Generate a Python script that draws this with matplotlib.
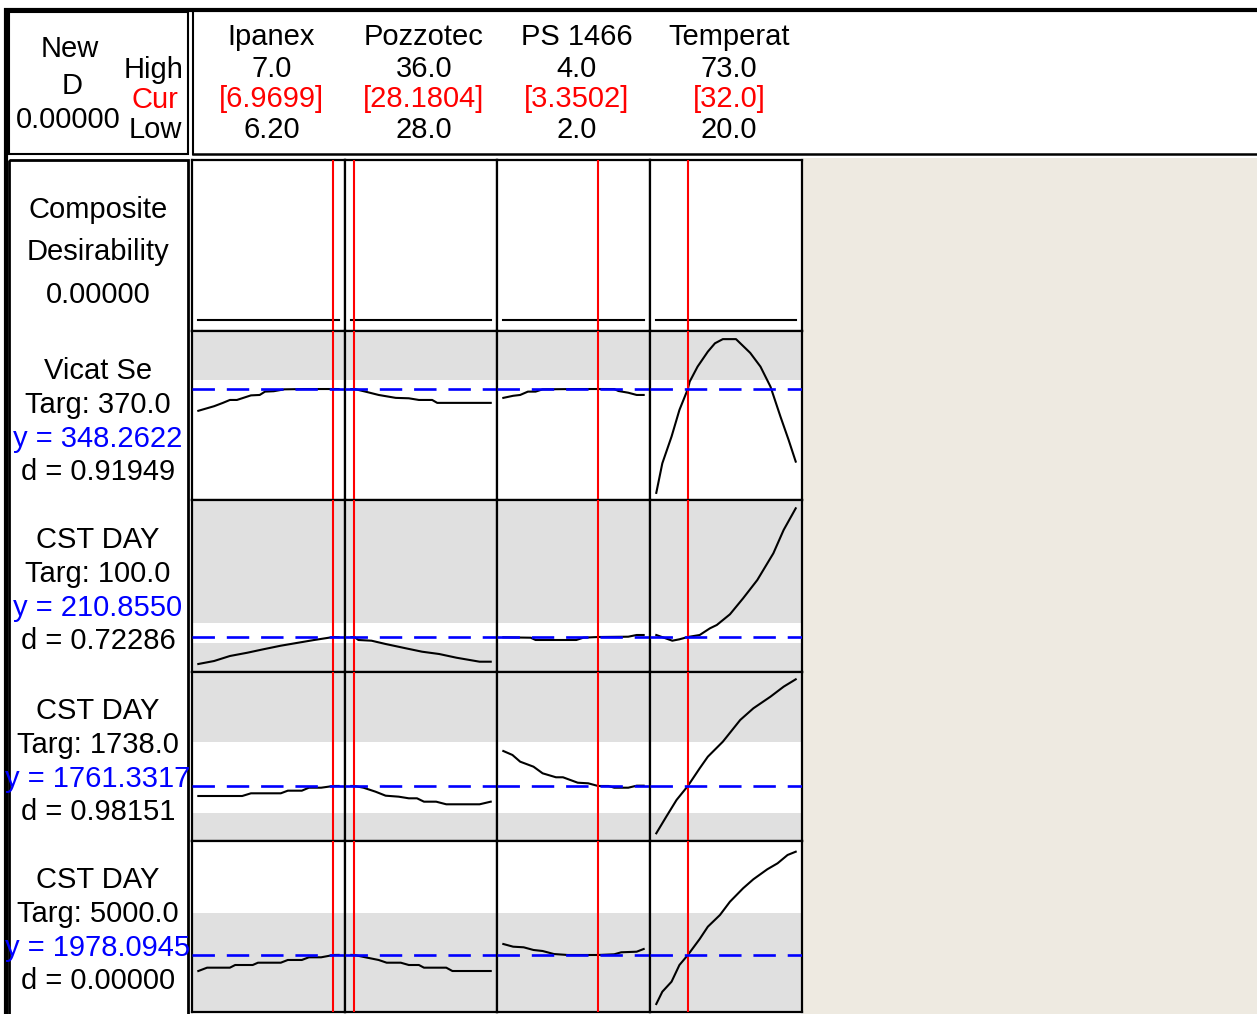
import matplotlib
matplotlib.use('Agg')
import matplotlib.pyplot as plt
from matplotlib.patches import Rectangle
from matplotlib import font_manager as fm

### Data
factors = ['Ipanex', 'Pozzotec', 'PS 1466', 'Temperat']
f_high = [7.0, 36.0, 4.0, 73.0]
f_low = [6.20, 28.0, 2.0, 20.0]
f_cur = [6.9699, 28.1804, 3.3502, 32.0]
high_txt = ['7.0', '36.0', '4.0', '73.0']
cur_txt = ['[6.9699]', '[28.1804]', '[3.3502]', '[32.0]']
low_txt = ['6.20', '28.0', '2.0', '20.0']

responses = ['Vicat Se', 'CST DAY', 'CST DAY', 'CST DAY']
targets = ['370.0', '100.0', '1738.0', '5000.0']
y_pred = ['348.2622', '210.8550', '1761.3317', '1978.0945']
d_vals = ['0.91949', '0.72286', '0.98151', '0.00000']
composite_d = '0.00000'
new_d = '0.00000'

# white (acceptable) band of each response
band_lo = [0.0, 100.0, 1000.0, 3000.0]
band_hi = [370.0, 500.0, 3000.0, 5000.0]
y_cur = [348.2622, 210.8550, 1761.3317, 1978.0945]

# composite desirability along each factor
comp_d = [0.0, 0.0]

# Vicat Se
vicat_ipa_x = [6.20, 6.29, 6.34, 6.38, 6.42, 6.50, 6.55, 6.58, 6.63, 6.69, 6.80, 6.97, 7.00]
vicat_ipa_y = [296, 307, 315, 322, 322, 333, 334, 342, 343, 347.5, 348.2, 348.26, 348.2]
vicat_poz_x = [28.0, 28.18, 28.81, 29.57, 30.55, 31.30, 31.88, 32.64, 32.93, 34.5, 36.0]
vicat_poz_y = [348.1, 348.26, 342, 334, 327, 326, 322, 322, 315, 315, 315]
vicat_ps_x = [2.0, 2.14, 2.24, 2.35, 2.46, 2.56, 3.0, 3.35, 3.58, 3.64, 3.78, 3.90, 4.0]
vicat_ps_y = [327, 332, 334, 342, 342, 347.5, 348.2, 348.26, 348.2, 343.5, 339.4, 334, 334]
vicat_tmp_x = [20, 22.3, 25.8, 28.8, 32.0, 32.7, 35.7, 39.6, 42.3, 45.3, 50.3, 55.7, 59.6, 63.4, 67.2, 70.3, 73.0]
vicat_tmp_y = [99, 170, 234, 298, 348.26, 366, 402, 438, 458, 468, 468, 435, 402, 354, 282, 226, 174]

# CST DAY (1)
cst1_ipa_x = [6.20, 6.29, 6.38, 6.48, 6.57, 6.67, 6.77, 6.86, 6.97, 7.00]
cst1_ipa_y = [-329, -269, -169, -103, -35, 37, 97, 151, 210.86, 205]
cst1_poz_x = [28.0, 28.18, 28.41, 29.16, 29.97, 31.13, 32.06, 33.04, 34.03, 35.36, 36.0]
cst1_poz_y = [209, 210.86, 151, 137, 71, -15, -83, -129, -203, -283, -283]
cst1_ps_x = [2.0, 2.39, 2.46, 3.04, 3.14, 3.35, 3.78, 3.90, 4.0]
cst1_ps_y = [205, 197, 151, 151, 197, 210.86, 217, 251, 251]
cst1_tmp_x = [20, 26.1, 28.8, 32.0, 36.5, 40.4, 43.0, 48.0, 53.0, 58.4, 64.5, 68.4, 73.0]
cst1_tmp_y = [251, 137, 165, 210.86, 251, 385, 451, 665, 985, 1351, 1885, 2351, 2785]

# CST DAY (2)
cst2_ipa_x = [6.20, 6.45, 6.50, 6.67, 6.71, 6.79, 6.83, 6.90, 6.97, 7.00]
cst2_ipa_y = [1479, 1479, 1555, 1555, 1629, 1629, 1713, 1713, 1761.33, 1762]
cst2_poz_x = [28.0, 28.18, 28.70, 29.39, 29.97, 30.72, 31.30, 31.77, 32.17, 32.87, 33.45, 35.36, 36.0]
cst2_poz_y = [1762, 1761.33, 1713, 1601, 1488, 1460, 1414, 1414, 1319, 1319, 1245, 1245, 1319]
cst2_ps_x = [2.0, 2.13, 2.24, 2.43, 2.56, 2.75, 2.85, 3.06, 3.21, 3.35, 3.50, 3.58, 3.78, 3.90, 4.0]
cst2_ps_y = [2748, 2636, 2447, 2306, 2119, 2007, 2007, 1854, 1837, 1761.33, 1761, 1713, 1713, 1770, 1770]
cst2_tmp_x = [20, 23.8, 27.7, 32.0, 36.5, 39.6, 45.3, 51.9, 56.9, 63.4, 68.4, 73.0]
cst2_tmp_y = [427, 896, 1367, 1761.33, 2260, 2588, 3011, 3623, 3952, 4280, 4562, 4770]

# CST DAY (3)
cst3_ipa_x = [6.20, 6.25, 6.38, 6.41, 6.51, 6.54, 6.67, 6.71, 6.79, 6.83, 6.90, 6.97, 7.00]
cst3_ipa_y = [1589, 1670, 1670, 1735, 1735, 1791, 1791, 1857, 1857, 1922, 1922, 1978.09, 1980]
cst3_poz_x = [28.0, 28.18, 28.81, 29.57, 30.03, 30.84, 31.30, 31.88, 32.17, 33.45, 33.80, 36.0]
cst3_poz_y = [1980, 1978.09, 1922, 1857, 1791, 1791, 1735, 1735, 1670, 1670, 1589, 1589]
cst3_ps_x = [2.0, 2.14, 2.29, 2.43, 2.56, 2.72, 2.92, 3.35, 3.58, 3.68, 3.90, 4.0]
cst3_ps_y = [2245, 2180, 2165, 2100, 2075, 2002, 1978, 1978.09, 1995, 2044, 2058, 2124]
cst3_tmp_x = [20, 22.3, 25.8, 28.8, 32.0, 36.5, 39.6, 44.2, 48.0, 53.0, 56.9, 62.2, 66.1, 69.9, 73.0]
cst3_tmp_y = [787, 1086, 1329, 1735, 1978.09, 2367, 2666, 2950, 3273, 3599, 3818, 4061, 4206, 4408, 4488]

curves = [
    [(vicat_ipa_x, vicat_ipa_y), (vicat_poz_x, vicat_poz_y), (vicat_ps_x, vicat_ps_y), (vicat_tmp_x, vicat_tmp_y)],
    [(cst1_ipa_x, cst1_ipa_y), (cst1_poz_x, cst1_poz_y), (cst1_ps_x, cst1_ps_y), (cst1_tmp_x, cst1_tmp_y)],
    [(cst2_ipa_x, cst2_ipa_y), (cst2_poz_x, cst2_poz_y), (cst2_ps_x, cst2_ps_y), (cst2_tmp_x, cst2_tmp_y)],
    [(cst3_ipa_x, cst3_ipa_y), (cst3_poz_x, cst3_poz_y), (cst3_ps_x, cst3_ps_y), (cst3_tmp_x, cst3_tmp_y)],
]

### Layout (pixels)
W, H = 1257, 1014
col_edges = [192, 345, 497, 650, 802]
row_edges = [160, 331, 500, 672, 841, 1012]
row_ylims = [(-0.07, 1.0), (81.9, 487.5), (-489, 2951), (210, 4976), (593, 4748)]

GREY = '#E0E0E0'
BEIGE = '#EEEAE1'

# narrow face if the system has one, else plain Liberation Sans a bit smaller
installed = {f.name for f in fm.fontManager.ttflist}
if 'Liberation Sans Narrow' in installed:
    plt.rcParams['font.family'] = ['Liberation Sans Narrow', 'DejaVu Sans']
    fs = 24
else:
    plt.rcParams['font.family'] = ['Liberation Sans', 'DejaVu Sans']
    fs = 21

fig = plt.figure(figsize=(W / 100, H / 100), dpi=100)
fig.patch.set_facecolor('white')


def px_rect(x0, y0, x1, y1):
    return [x0 / W, 1 - y1 / H, (x1 - x0) / W, (y1 - y0) / H]


# background overlay in pixel coords
bg = fig.add_axes([0, 0, 1, 1], zorder=0)
bg.set_xlim(0, W)
bg.set_ylim(H, 0)
bg.axis('off')
bg.add_patch(Rectangle((803, 158), W - 803, H - 158, facecolor=BEIGE, edgecolor='none'))

for r in range(5):
    for c in range(4):
        ax = fig.add_axes(px_rect(col_edges[c], row_edges[r], col_edges[c + 1], row_edges[r + 1]), zorder=2)
        pad = 0.045 * (f_high[c] - f_low[c])
        ax.set_xlim(f_low[c] - pad, f_high[c] + pad)
        ax.set_ylim(*row_ylims[r])
        ax.set_xticks([])
        ax.set_yticks([])
        for s in ax.spines.values():
            s.set_linewidth(1.6)
            s.set_color('black')
        if r == 0:
            ax.set_facecolor('white')
            ax.plot([f_low[c], f_high[c]], comp_d, color='black', lw=1.5, zorder=2)
        else:
            i = r - 1
            ax.set_facecolor(GREY)
            ax.axhspan(band_lo[i], band_hi[i], color='white', lw=0, zorder=1)
            xs, ys = curves[i][c]
            ax.plot(xs, ys, color='black', lw=1.5, zorder=2, solid_joinstyle='round')
            ax.axhline(y_cur[i], color='#0000FF', lw=1.9, dashes=(8.5, 4.5), zorder=4)
        ax.axvline(f_cur[c], color='#FF0000', lw=1.5, zorder=3)

# frame and text overlay
ov = fig.add_axes([0, 0, 1, 1], zorder=5)
ov.set_xlim(0, W)
ov.set_ylim(H, 0)
ov.axis('off')
ov.patch.set_alpha(0)

ov.plot([4, W], [10, 10], color='black', lw=3.0, solid_capstyle='butt')
ov.plot([6, 6], [8, H], color='black', lw=3.0, solid_capstyle='butt')
ov.add_patch(Rectangle((9, 12), 179, 142, fill=False, edgecolor='black', lw=1.5))
ov.plot([193, 193], [12, 154], color='black', lw=1.5)
ov.plot([193, W], [154, 154], color='black', lw=1.8)
ov.add_patch(Rectangle((9, 160), 179, H, fill=False, edgecolor='black', lw=2.0))

tk = dict(fontsize=fs, va='center_baseline')
# header left
ov.text(70, 46, 'New', ha='center', **tk)
ov.text(72, 83, 'D', ha='center', **tk)
ov.text(68, 117, new_d, ha='center', **tk)
ov.text(184, 67, 'High', ha='right', **tk)
ov.text(178, 97, 'Cur', ha='right', color='#FF0000', **tk)
ov.text(182, 127, 'Low', ha='right', **tk)

# header factors
for c in range(4):
    cx = (col_edges[c] + col_edges[c + 1]) / 2 + 3
    ov.text(cx, 34, factors[c], ha='center', **tk)
    ov.text(cx, 66, high_txt[c], ha='center', **tk)
    ov.text(cx, 96, cur_txt[c], ha='center', color='#FF0000', **tk)
    ov.text(cx, 127, low_txt[c], ha='center', **tk)

# left labels
lx = 98
ov.text(lx, 207, 'Composite', ha='center', **tk)
ov.text(lx, 249, 'Desirability', ha='center', **tk)
ov.text(lx, 292, composite_d, ha='center', **tk)
label_tops = [368, 537, 708, 877]
for i in range(4):
    y0 = label_tops[i]
    ov.text(lx, y0, responses[i], ha='center', **tk)
    ov.text(lx, y0 + 34, 'Targ: ' + targets[i], ha='center', **tk)
    ov.text(lx, y0 + 68, 'y = ' + y_pred[i], ha='center', color='#0000FF', **tk)
    ov.text(lx, y0 + 101, 'd = ' + d_vals[i], ha='center', **tk)

fig.savefig('out.png', dpi=100, facecolor='white')
